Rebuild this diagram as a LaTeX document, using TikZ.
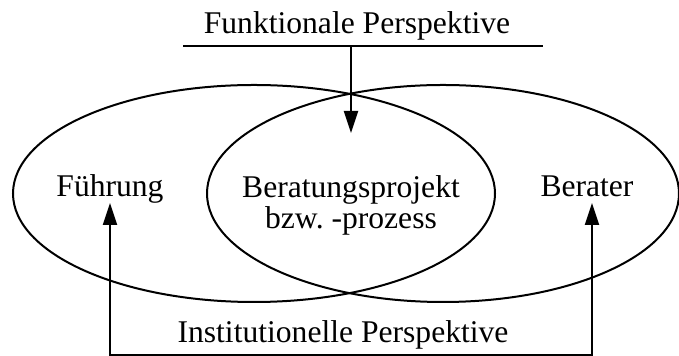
\documentclass[tikz,border=0pt]{standalone}
\usepackage{fontspec}
\setmainfont{Liberation Serif}
\usetikzlibrary{shapes.geometric,arrows.meta}

\begin{document}
\begin{tikzpicture}[x=0.5pt,y=-0.5pt,line width=1pt,
        menge/.style={draw,ellipse,inner sep=0pt,minimum width=241pt,minimum height=108.5pt},
        schrift/.style={inner sep=0pt,align=center,font=\fontsize{15.8}{15.5}\selectfont},
        pfeil/.style={-{Triangle[length=11pt,width=7pt]}},
        doppelpfeil/.style={{Triangle[length=11pt,width=7pt]}-{Triangle[length=11pt,width=7pt]}}]

        \useasboundingbox (0,0) rectangle (679,356);

        \node[menge] (links) at (254,193.5) {};
        \node[menge,minimum width=236pt] (rechts) at (443,193.5) {};

        \node[schrift,anchor=base] (fuehrung) at (110,197) {Führung};
        \node[schrift] (projekt) at (351,205) {Beratungsprojekt\\bzw.\ -prozess};
        \node[schrift,anchor=base] (berater) at (587,197) {Berater};

        \node[schrift,anchor=base] (funktional) at (357,34) {Funktionale Perspektive};
        \coordinate (fl) at (183,46);
        \coordinate (fr) at (543,46);
        \coordinate (fm) at (351,46);
        \coordinate (fspitze) at (351,133);
        \draw (fl) -- (fr);
        \draw[pfeil] (fm) -- (fspitze);

        \node[schrift,anchor=base] (institutionell) at (343,343) {Institutionelle Perspektive};
        \coordinate (il) at (110,203);
        \coordinate (iul) at (110,355);
        \coordinate (iur) at (592,355);
        \coordinate (ir) at (592,203);
        \draw[doppelpfeil] (il) -- (iul) -- (iur) -- (ir);
    \end{tikzpicture}
\end{document}
